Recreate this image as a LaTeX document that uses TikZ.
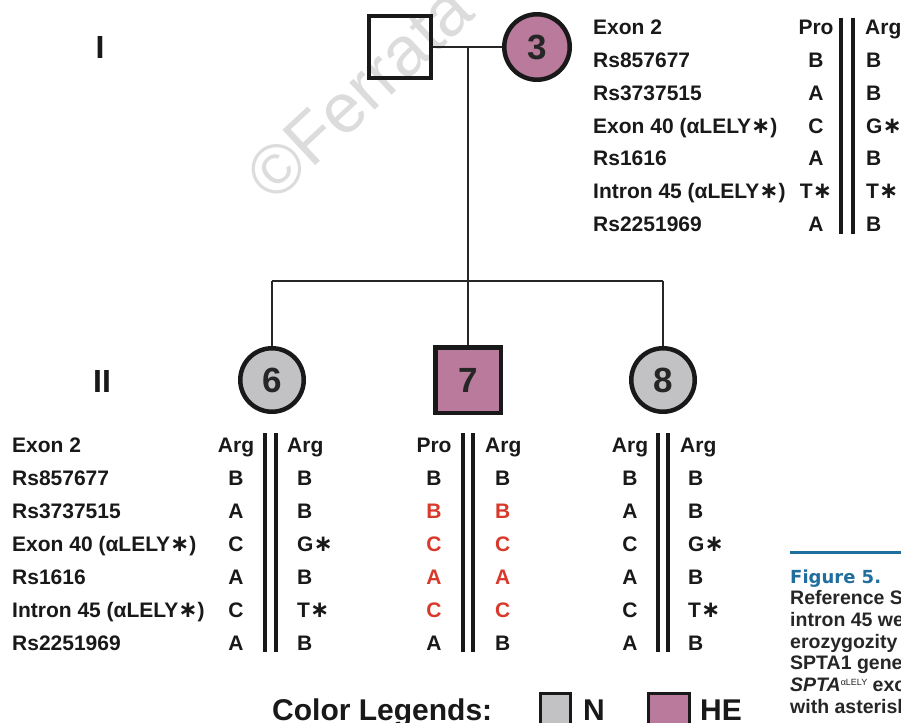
\documentclass[tikz,border=0pt]{standalone}
\usepackage{fontspec}
\setmainfont{Liberation Sans}
\newfontfamily\dv{DejaVu Sans}
\definecolor{hecol}{HTML}{B97A9B}
\definecolor{ncol}{HTML}{C2C2C4}
\definecolor{hlcol}{HTML}{D8392B}
\definecolor{capcol}{HTML}{1F6E9E}
\definecolor{wmcol}{HTML}{DCDCDC}
\newcommand\astr{{\dv\bfseries\fontsize{23}{21}\selectfont ∗}}
\newcommand\rd[1]{\textcolor{hlcol}{#1}}
\begin{document}
\begin{tikzpicture}[x=1pt,y=-1pt,
  lbl/.style={font=\bfseries\fontsize{21}{21}\selectfont, inner sep=0pt, anchor=base west, text=black!90},
  valc/.style={font=\bfseries\fontsize{21}{21}\selectfont, inner sep=0pt, anchor=base, text=black!90},
  valw/.style={valc, anchor=base west},
  sym/.style={draw=black!90, line width=4.5pt, font=\bfseries\fontsize{35}{35}\selectfont, inner sep=0pt, text=black!85},
  ped/.style={line width=1.4pt, draw=black!85},
  dbl/.style={line width=3.5pt, draw=black!90},
  gen/.style={font=\bfseries\fontsize{32}{32}\selectfont, inner sep=0pt, text=black!90},
  leg/.style={font=\bfseries\fontsize{30}{30}\selectfont, inner sep=0pt, anchor=base west, text=black!90},
  legbox/.style={draw=black!90, line width=3pt, minimum width=30pt, minimum height=44pt, anchor=north west, inner sep=0pt},
  captxt/.style={font=\bfseries\fontsize{19.5}{19.5}\selectfont, inner sep=0pt, anchor=base west, text=black!85}
]
\useasboundingbox (0,0) rectangle (901,722);
\clip (0,0) rectangle (901,722);
\fill[white] (0,0) rectangle (901,722);

% watermark
\node[font=\fontsize{70}{70}\selectfont, text=wmcol, inner sep=0pt, anchor=base west, rotate=43] (wm) at (274,205) {©Ferrata};

% generation labels
\node[gen] (g1) at (100,47) {I};
\node[gen] (g2) at (102,381) {II};

% pedigree symbols
\node[sym, rectangle, minimum size=62pt] (f) at (400,47) {};
\node[sym, circle, minimum size=65.5pt, fill=hecol] (m) at (537,47) {3};
\node[sym, circle, minimum size=63.5pt, fill=ncol] (c6) at (272,380) {6};
\node[sym, rectangle, minimum size=65.5pt, fill=hecol] (c7) at (468,380) {7};
\node[sym, circle, minimum size=63.5pt, fill=ncol] (c8) at (663,380) {8};

\coordinate (mid) at (468,47);
\coordinate (d) at (468,281);
\coordinate (s6) at (272,281);
\coordinate (s8) at (663,281);
\draw[ped] (f.east) -- (m.west);
\draw[ped] (mid) -- (d);
\draw[ped] (s6) -- (s8);
\draw[ped] (s6) -- (c6.north);
\draw[ped] (d) -- (c7.north);
\draw[ped] (s8) -- (c8.north);

% top table
\foreach \t [count=\i from 0] in {Exon 2,Rs857677,Rs3737515,Exon 40 (αLELY\astr),Rs1616,Intron 45 (αLELY\astr),Rs2251969}
  \node[lbl] (tl\i) at (593,{35+32.7*\i}) {\t};
\foreach \t [count=\i from 0] in {Pro,B,A,C,A,T\astr,A}
  \node[valc] (ta\i) at (816,{35+32.7*\i}) {\t};
\node[valw] (tb0) at (865,35) {Arg};
\foreach \t [count=\i from 1] in {B,B,G\astr,B,T\astr,B}
  \node[valw] (tb\i) at (866,{35+32.7*\i}) {\t};
\coordinate (tv1a) at (841,18); \coordinate (tv1b) at (841,234);
\coordinate (tv2a) at (853,18); \coordinate (tv2b) at (853,234);
\draw[dbl] (tv1a) -- (tv1b);
\draw[dbl] (tv2a) -- (tv2b);

% bottom labels
\foreach \t [count=\i from 0] in {Exon 2,Rs857677,Rs3737515,Exon 40 (αLELY\astr),Rs1616,Intron 45 (αLELY\astr),Rs2251969}
  \node[lbl] (bl\i) at (12,{452.5+33*\i}) {\t};

% table 6
\foreach \t [count=\i from 0] in {Arg,B,A,C,A,C,A}
  \node[valc] (sa\i) at (236,{452.5+33*\i}) {\t};
\node[valw] (sb0) at (287,452.5) {Arg};
\foreach \t [count=\i from 1] in {B,B,G\astr,B,T\astr,B}
  \node[valw] (sb\i) at (297,{452.5+33*\i}) {\t};
\coordinate (s1a) at (265,433); \coordinate (s1b) at (265,652);
\coordinate (s2a) at (276,433); \coordinate (s2b) at (276,652);
\draw[dbl] (s1a) -- (s1b);
\draw[dbl] (s2a) -- (s2b);

% table 7
\foreach \t [count=\i from 0] in {Pro,B,\rd{B},\rd{C},\rd{A},\rd{C},A}
  \node[valc] (pa\i) at (434,{452.5+33*\i}) {\t};
\node[valw] (pb0) at (485,452.5) {Arg};
\foreach \t [count=\i from 1] in {B,\rd{B},\rd{C},\rd{A},\rd{C},B}
  \node[valw] (pb\i) at (495,{452.5+33*\i}) {\t};
\coordinate (p1a) at (463,433); \coordinate (p1b) at (463,652);
\coordinate (p2a) at (473,433); \coordinate (p2b) at (473,652);
\draw[dbl] (p1a) -- (p1b);
\draw[dbl] (p2a) -- (p2b);

% table 8
\foreach \t [count=\i from 0] in {Arg,B,A,C,A,C,A}
  \node[valc] (ea\i) at (630,{452.5+33*\i}) {\t};
\node[valw] (eb0) at (680,452.5) {Arg};
\foreach \t [count=\i from 1] in {B,B,G\astr,B,T\astr,B}
  \node[valw] (eb\i) at (688,{452.5+33*\i}) {\t};
\coordinate (e1a) at (658,433); \coordinate (e1b) at (658,652);
\coordinate (e2a) at (668,433); \coordinate (e2b) at (668,652);
\draw[dbl] (e1a) -- (e1b);
\draw[dbl] (e2a) -- (e2b);

% legend
\node[leg] (lt) at (272,720) {Color Legends:};
\node[legbox, fill=ncol] (nbox) at (539,692) {};
\node[leg] (nt) at (583,720) {N};
\node[legbox, fill=hecol, minimum width=41pt] (hbox) at (647,692) {};
\node[leg] (ht) at (700,720) {HE};

% caption
\coordinate (ra) at (790,552); \coordinate (rb) at (905,552);
\draw[capcol, line width=3pt] (ra) -- (rb);
\node[font=\dv\bfseries\fontsize{18}{18}\selectfont, text=capcol, inner sep=0pt, anchor=base west] (fig) at (790,583) {Figure 5.};
\node[captxt] (c1) at (790,604) {Reference S};
\node[captxt] (c2) at (790,626) {intron 45 we};
\node[captxt] (c3) at (790,648) {erozygozity k};
\node[captxt] (c4) at (790,669) {SPTA1 gene};
\node[captxt] (c5) at (790,691) {\textit{SPTA}\raisebox{6pt}{\mdseries\fontsize{9}{9}\selectfont αLELY} exon};
\node[captxt] (c6t) at (790,713) {with asterisk};
\end{tikzpicture}
\end{document}
